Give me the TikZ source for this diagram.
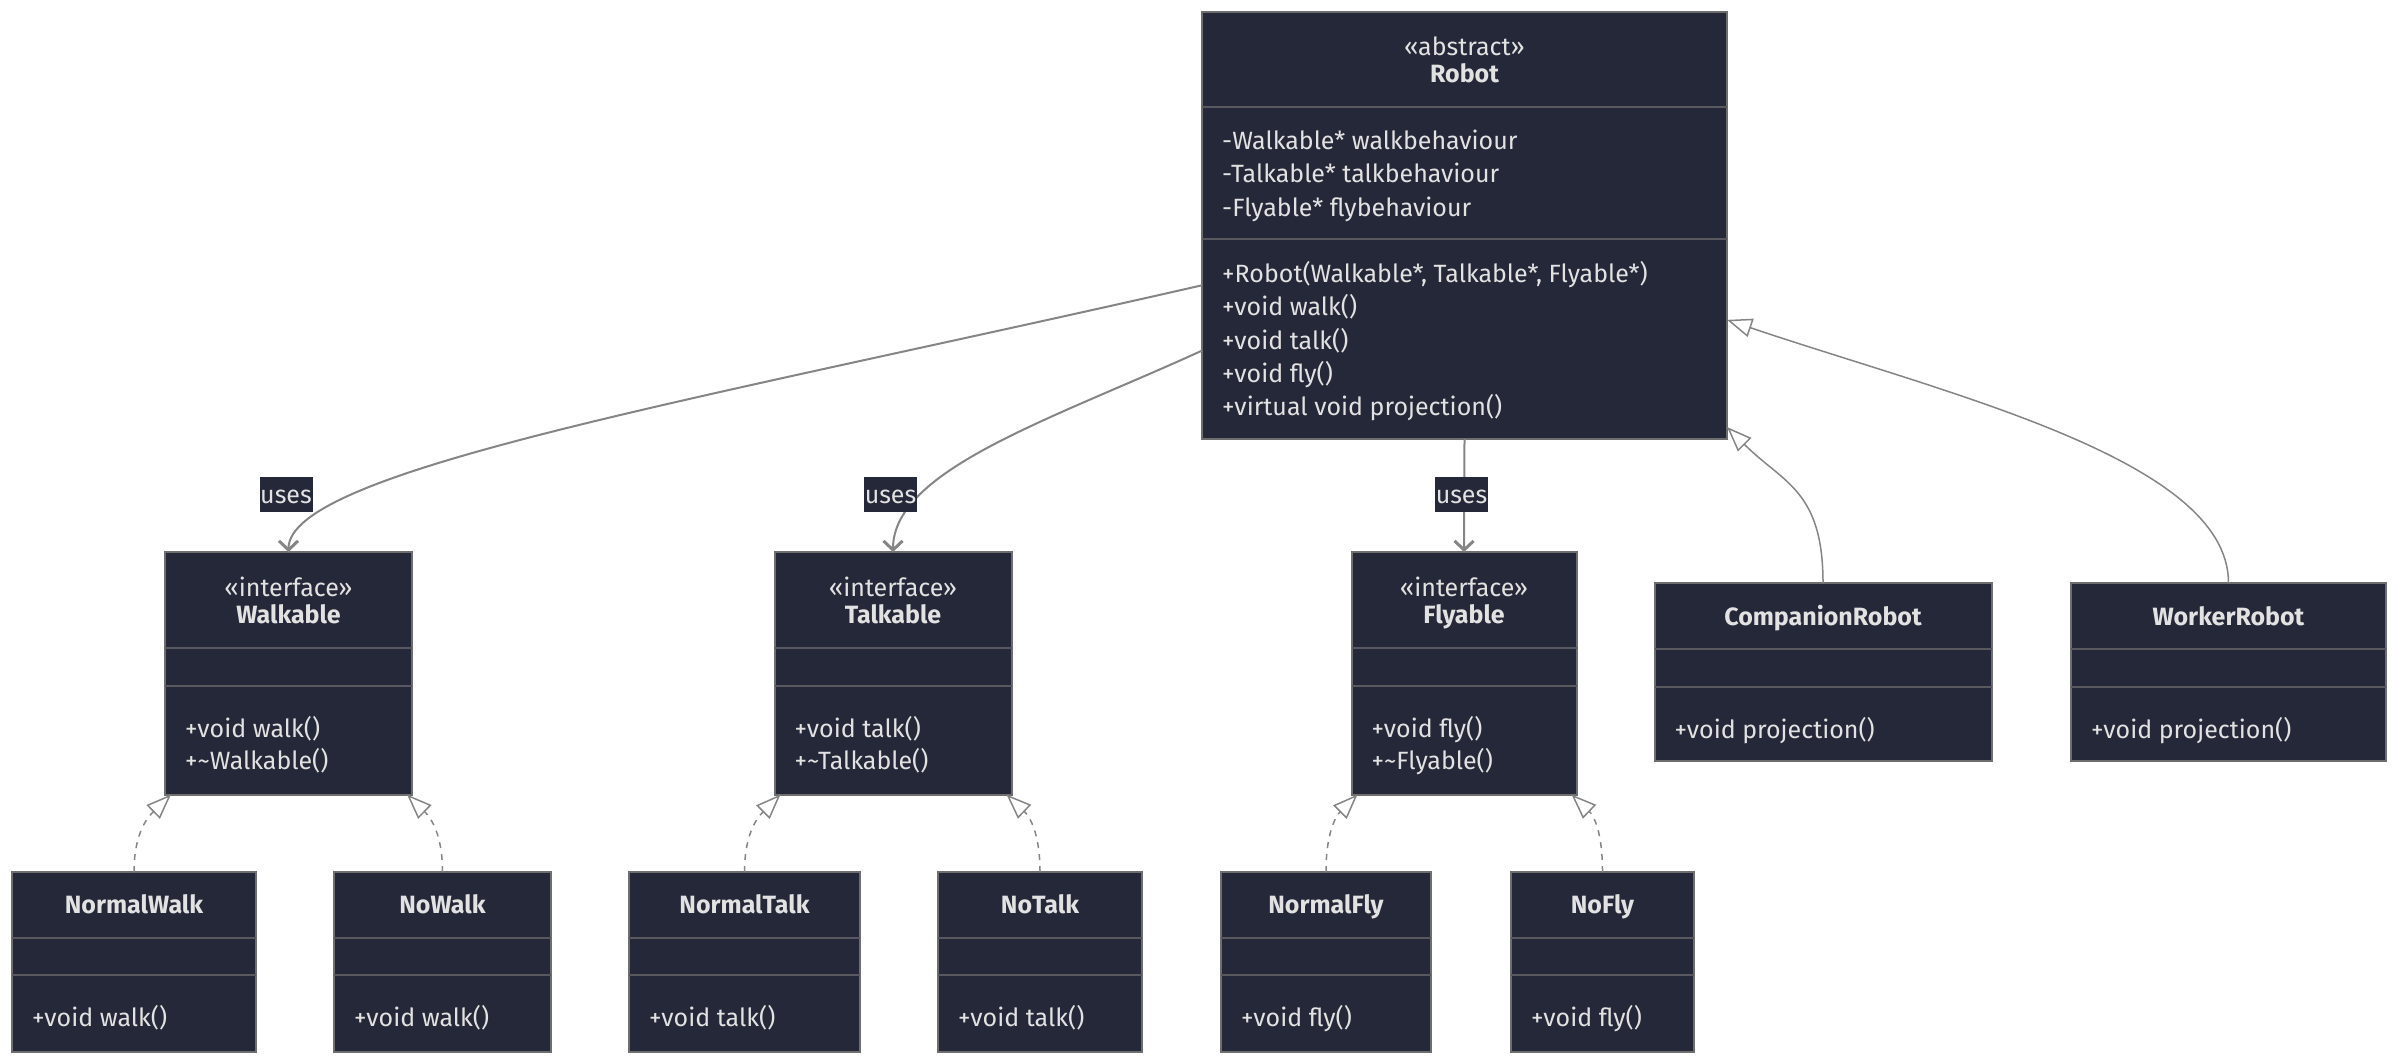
\documentclass[tikz,border=0pt]{standalone}
\usepackage{fontspec}
\setmainfont{Fira Sans}
\usetikzlibrary{arrows.meta,calc}

\definecolor{boxfill}{HTML}{252838}
\definecolor{boxline}{HTML}{6E6E6E}
\definecolor{divline}{HTML}{58585E}
\definecolor{txt}{HTML}{E2E2E2}
\definecolor{edge}{HTML}{858585}

\tikzset{
  x=1pt, y=-1pt,
  umlbox/.style={draw=boxline, fill=boxfill, line width=2pt, inner sep=0pt, outer sep=0pt, rectangle},
  divider/.style={draw=divline, line width=2pt},
  txtbase/.style={text=txt, inner sep=0pt, text height=17pt, text depth=0pt, font=\fontsize{25}{33}\selectfont},
  member/.style={txtbase, anchor=west},
  heading/.style={txtbase, font=\fontsize{25}{33}\selectfont\bfseries},
  stereo/.style={txtbase},
  edgelabel/.style={txtbase, fill=boxfill, minimum width=53pt, minimum height=35pt},
  uses/.style={draw=edge, line width=2pt, -{Straight Barb[length=9pt,width=19pt,line width=3pt]}},
  inherit/.style={draw=edge, line width=1.5pt, -{Triangle[open,length=25pt,width=19pt]}},
  realize/.style={inherit, dash pattern=on 6pt off 6pt},
}

% class rectangle: name, x1, y1, x2, y2
\newcommand\umlrect[5]{%
  \node[umlbox, minimum width={#4-#2}, minimum height={#5-#3}] (#1) at ({(#2+#4)/2},{(#3+#5)/2}) {};}
% compartment separator: box name, offset below its top edge
\newcommand\umlsep[2]{%
  \draw[divider] ($(#1.north west)+(0,#2)$) -- ($(#1.north east)+(0,#2)$);}

\begin{document}
\begin{tikzpicture}
\useasboundingbox (0,0) rectangle (2400,1064);

% ---------- Robot ----------
\umlrect{robot}{1202}{12}{1727}{439}
\umlsep{robot}{95}
\umlsep{robot}{227}
\node[stereo]  (robot-st) at (1464.5,47) {«abstract»};
\node[heading] (robot-nm) at (1464.5,74) {Robot};
\node[member] (robot-a1) at (1222,141)   {-Walkable* walkbehaviour};
\node[member] (robot-a2) at (1222,174.3) {-Talkable* talkbehaviour};
\node[member] (robot-a3) at (1222,207.6) {-Flyable* flybehaviour};
\node[member] (robot-m1) at (1222,274)   {+Robot(Walkable*, Talkable*, Flyable*)};
\node[member] (robot-m2) at (1222,307.3) {+void walk()};
\node[member] (robot-m3) at (1222,340.6) {+void talk()};
\node[member] (robot-m4) at (1222,373.9) {+void fly()};
\node[member] (robot-m5) at (1222,407.2) {+virtual void projection()};

% ---------- interfaces ----------
\umlrect{walkable}{165}{552}{412}{794.5}
\umlsep{walkable}{95.5}
\umlsep{walkable}{133.7}
\node[stereo]  (walkable-st) at (288.5,588) {«interface»};
\node[heading] (walkable-nm) at (288.5,615) {Walkable};
\node[member] (walkable-m1) at (185,728.6) {+void walk()};
\node[member] (walkable-m2) at (185,761)   {+\textasciitilde Walkable()};

\umlrect{talkable}{774.5}{552}{1011.5}{794.5}
\umlsep{talkable}{95.5}
\umlsep{talkable}{133.7}
\node[stereo]  (talkable-st) at (893,588) {«interface»};
\node[heading] (talkable-nm) at (893,615) {Talkable};
\node[member] (talkable-m1) at (794.5,728.6) {+void talk()};
\node[member] (talkable-m2) at (794.5,761)   {+\textasciitilde Talkable()};

\umlrect{flyable}{1351.5}{552}{1576.5}{794.5}
\umlsep{flyable}{95.5}
\umlsep{flyable}{133.7}
\node[stereo]  (flyable-st) at (1464,588) {«interface»};
\node[heading] (flyable-nm) at (1464,615) {Flyable};
\node[member] (flyable-m1) at (1371.5,728.6) {+void fly()};
\node[member] (flyable-m2) at (1371.5,761)   {+\textasciitilde Flyable()};

% ---------- concrete robots ----------
\umlrect{companion}{1654.5}{583}{1991.5}{761}
\umlsep{companion}{66}
\umlsep{companion}{104}
\node[heading] (companion-nm) at (1823,617) {CompanionRobot};
\node[member] (companion-m1) at (1674.5,730) {+void projection()};

\umlrect{worker}{2071}{583}{2386}{761}
\umlsep{worker}{66}
\umlsep{worker}{104}
\node[heading] (worker-nm) at (2228.5,617) {WorkerRobot};
\node[member] (worker-m1) at (2091,730) {+void projection()};

% ---------- behaviour implementations ----------
\umlrect{normalwalk}{12}{872}{256}{1051.5}
\umlrect{nowalk}{334}{872}{551}{1051.5}
\umlrect{normaltalk}{629}{872}{860}{1051.5}
\umlrect{notalk}{938}{872}{1142}{1051.5}
\umlrect{normalfly}{1221}{872}{1431}{1051.5}
\umlrect{nofly}{1511}{872}{1694}{1051.5}
\foreach \b in {normalwalk,nowalk,normaltalk,notalk,normalfly,nofly}{
  \umlsep{\b}{66.3}
  \umlsep{\b}{103}
}
\node[heading] (normalwalk-nm) at (134,905)    {NormalWalk};
\node[heading] (nowalk-nm)     at (442.5,905)  {NoWalk};
\node[heading] (normaltalk-nm) at (744.5,905)  {NormalTalk};
\node[heading] (notalk-nm)     at (1040,905)   {NoTalk};
\node[heading] (normalfly-nm)  at (1326,905)   {NormalFly};
\node[heading] (nofly-nm)      at (1602.5,905) {NoFly};
\node[member] (normalwalk-m1) at (32,1018)   {+void walk()};
\node[member] (nowalk-m1)     at (354,1018)  {+void walk()};
\node[member] (normaltalk-m1) at (649,1018)  {+void talk()};
\node[member] (notalk-m1)     at (958,1018)  {+void talk()};
\node[member] (normalfly-m1)  at (1241,1018) {+void fly()};
\node[member] (nofly-m1)      at (1531,1018) {+void fly()};

% ---------- associations ----------
\draw[uses] ($(robot.north west)!0.64!(robot.south west)$)
  .. controls (700,400) and (288.5,470) .. (walkable.north);
\draw[uses] ($(robot.north west)!0.793!(robot.south west)$)
  .. controls (1050,420) and (893,470) .. (talkable.north);
\draw[uses] (robot.south) -- (flyable.north);
\node[edgelabel] (uses-walk) at (286,494.5)  {uses};
\node[edgelabel] (uses-talk) at (890.5,494.5) {uses};
\node[edgelabel] (uses-fly)  at (1461.5,494.5) {uses};

% ---------- generalisations ----------
\draw[inherit] (companion.north)
  .. controls (1823,490) and (1783,483) .. ($(robot.north east)!0.972!(robot.south east)$);
\draw[inherit] (worker.north)
  .. controls (2228.5,460) and (1950,395) .. ($(robot.north east)!0.721!(robot.south east)$);

% ---------- realisations ----------
\draw[realize] (normalwalk.north) .. controls (134,830) and (150,815) .. ($(walkable.south west)+(6,0)$);
\draw[realize] (nowalk.north) .. controls (442.5,830) and (428,815) .. ($(walkable.south east)+(-5,0)$);
\draw[realize] (normaltalk.north) .. controls (744.5,830) and (760,815) .. ($(talkable.south west)+(6,0)$);
\draw[realize] (notalk.north) .. controls (1040,830) and (1028,815) .. ($(talkable.south east)+(-5,0)$);
\draw[realize] (normalfly.north) .. controls (1326,830) and (1337,815) .. ($(flyable.south west)+(6,0)$);
\draw[realize] (nofly.north) .. controls (1602.5,830) and (1593,815) .. ($(flyable.south east)+(-5,0)$);
\end{tikzpicture}
\end{document}
